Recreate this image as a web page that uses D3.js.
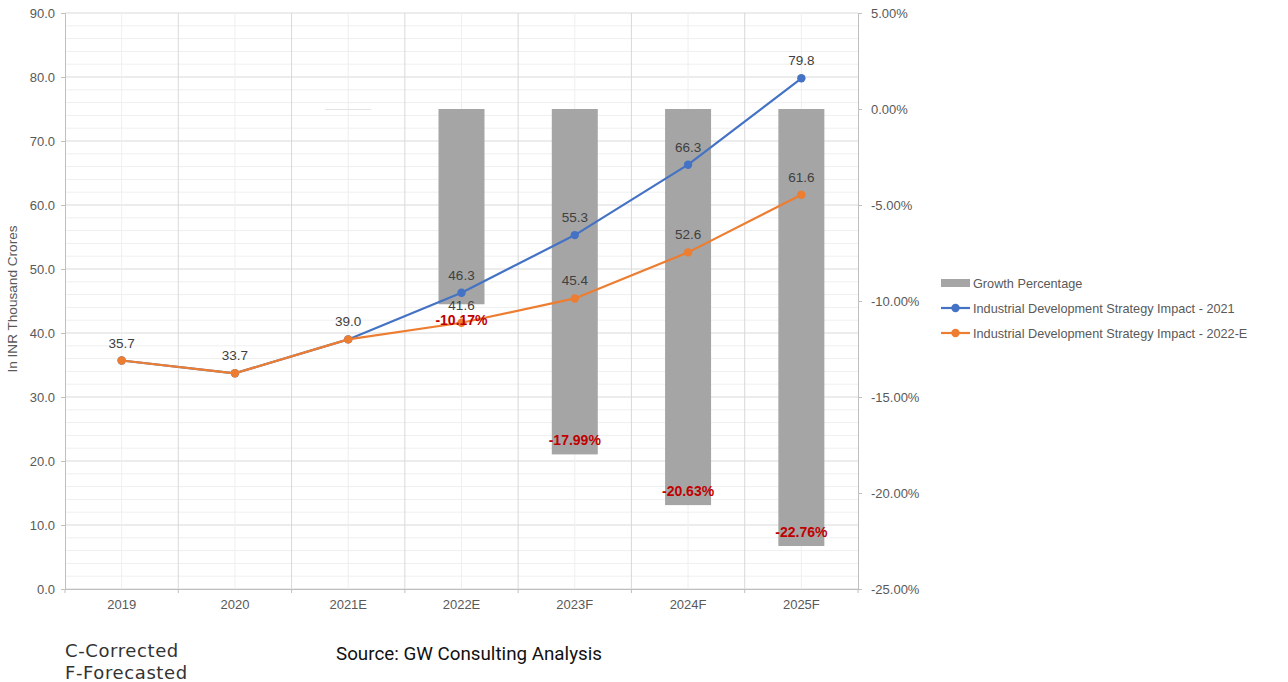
<!DOCTYPE html>
<html><head><meta charset="utf-8">
<script src="https://cdn.jsdelivr.net/npm/d3@7/dist/d3.min.js"></script>
<style>body{margin:0;background:#fff}svg{display:block}</style>
</head><body><svg id="c" width="1288" height="682"></svg>
<script>
const categories = ["2019","2020","2021E","2022E","2023F","2024F","2025F"];
const growthPct = [null, null, 0, -10.17, -17.99, -20.63, -22.76];
const impact2021 = [35.7, 33.7, 39.0, 46.3, 55.3, 66.3, 79.8];
const impact2022E = [35.7, 33.7, 39.0, 41.6, 45.4, 52.6, 61.6];
const leftTicks = [0,10,20,30,40,50,60,70,80,90];
const rightTicks = [5,0,-5,-10,-15,-20,-25];
const seriesNames = ["Growth Percentage","Industrial Development Strategy Impact - 2021","Industrial Development Strategy Impact - 2022-E"];

const loc = d3.formatLocale({decimal: ".", thousands: ",", grouping: [3], currency: ["", ""], minus: "-"});
const f2 = loc.format(".2f"), f1 = loc.format(".1f");

const svg = d3.select("#c");
const L = 65, R = 858, T = 13, B = 589;
const font = "'Liberation Sans', Arial, sans-serif";
const x = d3.scaleBand().domain(categories).range([L, R]).padding(0);
const yL = d3.scaleLinear().domain([0, 90]).range([B, T]);
const yR = d3.scaleLinear().domain([-25, 5]).range([B, T]);
const cx = c => x(c) + x.bandwidth()/2;

// grid
const g = svg.append("g");
g.selectAll(".minh").data(d3.range(0, 91, 2)).join("line")
  .attr("x1", L).attr("x2", R).attr("y1", d => yL(d)).attr("y2", d => yL(d))
  .attr("stroke", d => d % 10 === 0 ? "#d9d9d9" : "#efefef").attr("stroke-width", 1);
g.selectAll(".vc").data(categories).join("line")
  .attr("x1", d => cx(d)).attr("x2", d => cx(d)).attr("y1", T).attr("y2", B)
  .attr("stroke", "#efefef");
g.selectAll(".vb").data(categories.slice(1)).join("line")
  .attr("x1", d => x(d)).attr("x2", d => x(d)).attr("y1", T).attr("y2", B)
  .attr("stroke", "#d9d9d9");

// bars
const barW = 46;
const bars = categories.map((c, i) => ({c, v: growthPct[i]})).filter(d => d.v !== null);
svg.append("g").selectAll("rect").data(bars).join("rect")
  .attr("x", d => cx(d.c) - barW/2).attr("width", barW)
  .attr("y", d => yR(0))
  .attr("height", d => Math.max(1, yR(d.v) - yR(0)))
  .attr("fill", d => d.v === 0 ? "#e3e3e3" : "#a5a5a5");

// axes
const axL = svg.append("g").attr("transform", `translate(${L},0)`)
  .call(d3.axisLeft(yL).tickValues(leftTicks).tickFormat(f1).tickSize(4).tickPadding(6));
const axR = svg.append("g").attr("transform", `translate(${R},0)`)
  .call(d3.axisRight(yR).tickValues(rightTicks).tickFormat(d => f2(d) + "%").tickSize(4).tickPadding(9));
const axB = svg.append("g").attr("transform", `translate(0,${B})`)
  .call(d3.axisBottom(x).tickSize(0).tickPadding(11));
svg.append("g").attr("transform", `translate(0,${B})`).selectAll("line")
  .data(categories.concat(["end"])).join("line")
  .attr("x1", (d,i) => i < categories.length ? x(d) : R).attr("x2", (d,i) => i < categories.length ? x(d) : R)
  .attr("y1", 0).attr("y2", 4).attr("stroke", "#bfbfbf");
[axL, axR, axB].forEach(a => {
  a.selectAll(".domain").attr("stroke", "#bfbfbf");
  a.selectAll(".tick line").attr("stroke", "#bfbfbf");
  a.selectAll("text").attr("fill", "#595959").style("font-family", font).style("font-size", "13px");
});

// y title
svg.append("text").attr("transform", `translate(17,${299}) rotate(-90)`)
  .attr("text-anchor", "middle").attr("fill", "#595959")
  .style("font-family", font).style("font-size", "13.6px").text("In INR Thousand Crores");

// lines
const line = d3.line().x((d, i) => cx(categories[i])).y(d => yL(d));
const seriesDefs = [{vals: impact2021, color: "#4472c4"}, {vals: impact2022E, color: "#ed7d31"}];
seriesDefs.forEach(s => {
  svg.append("path").datum(s.vals).attr("d", line).attr("fill", "none")
    .attr("stroke", s.color).attr("stroke-width", 2.2).attr("stroke-linejoin", "round");
  svg.append("g").selectAll("circle").data(s.vals).join("circle")
    .attr("cx", (d, i) => cx(categories[i])).attr("cy", d => yL(d)).attr("r", 4.2).attr("fill", s.color);
});

// line labels
const lbl = svg.append("g").style("font-family", font).style("font-size", "13.5px").attr("fill", "#404040").attr("text-anchor", "middle");
impact2021.forEach((v, i) => {
  if (v !== impact2022E[i]) lbl.append("text").attr("x", cx(categories[i])).attr("y", yL(v) - 13).text(f1(v));
});
impact2022E.forEach((v, i) => {
  lbl.append("text").attr("x", cx(categories[i])).attr("y", yL(v) - 13).text(f1(v));
});

// bar labels
const bl = svg.append("g").style("font-family", font).style("font-size", "14px").style("font-weight", "bold")
  .attr("fill", "#c00000").attr("text-anchor", "middle");
bars.filter(d => d.v !== 0).forEach((d, i) => {
  const yy = i === 0 ? yR(d.v) + 21 : yR(d.v) - 9;
  bl.append("text").attr("x", cx(d.c)).attr("y", yy).text(f2(d.v) + "%");
});

// legend
const lg = svg.append("g").attr("transform", "translate(941,283)").style("font-family", font).style("font-size", "12.7px");
seriesNames.forEach((n, i) => {
  const yy = i * 25;
  if (i === 0) {
    lg.append("rect").attr("x", 0).attr("y", yy - 4).attr("width", 29).attr("height", 8).attr("fill", "#a5a5a5");
  } else {
    const col = seriesDefs[i-1].color;
    lg.append("line").attr("x1", 0).attr("x2", 29).attr("y1", yy).attr("y2", yy).attr("stroke", col).attr("stroke-width", 2.2);
    lg.append("circle").attr("cx", 14.5).attr("cy", yy).attr("r", 4.2).attr("fill", col);
  }
  lg.append("text").attr("x", 32).attr("y", yy + 4.5).attr("fill", "#595959").text(n);
});

// footnotes
const fn = svg.append("g").style("font-family", "'DejaVu Sans', sans-serif").style("font-size", "18px").attr("fill", "#333").style("letter-spacing", "0.6px");
fn.append("text").attr("x", 65).attr("y", 657).text("C-Corrected");
fn.append("text").attr("x", 65).attr("y", 679).text("F-Forecasted");
svg.append("text").attr("x", 336).attr("y", 660).style("font-family", "Roboto, sans-serif").style("font-size", "18.8px")
  .attr("fill", "#111").text("Source: GW Consulting Analysis");
</script></body></html>
